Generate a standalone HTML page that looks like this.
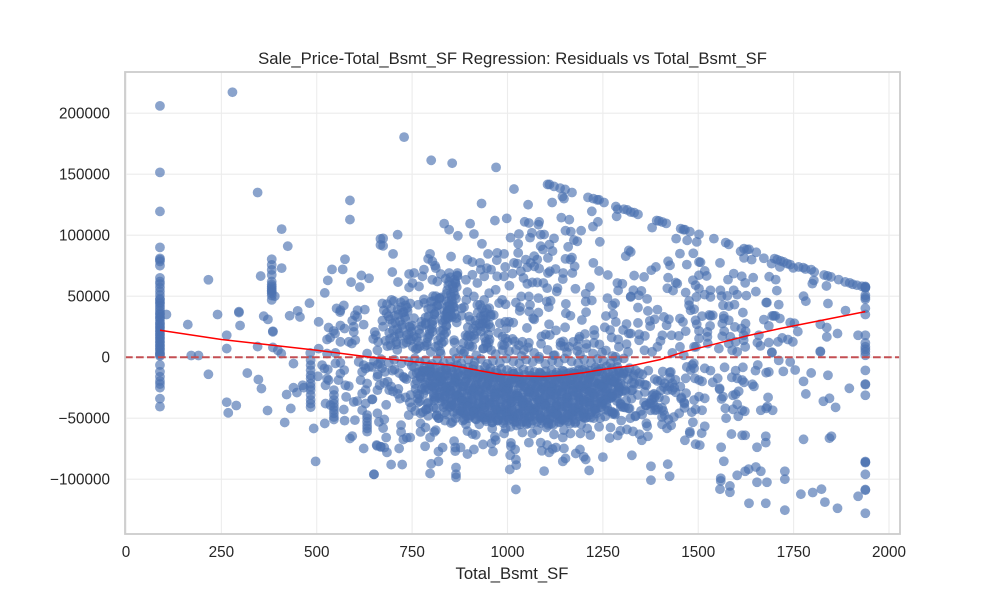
<!DOCTYPE html>
<html lang="en">
<head>
<meta charset="utf-8">
<title>Residuals vs Total_Bsmt_SF</title>
<style>
html,body{margin:0;padding:0;background:#fff}
svg{display:block;font-family:"Liberation Sans",Arial,sans-serif}
</style>
</head>
<body>
<svg id="chart" width="1000" height="600" viewBox="0 0 1000 600" xmlns="http://www.w3.org/2000/svg">
<rect x="0" y="0" width="1000" height="600" fill="#fff"/>
<g id="grid"></g>
<g id="points"></g>
<g id="overlays"></g>
<rect x="125" y="72" width="775" height="462" fill="none" stroke="#cccccc" stroke-width="1.8"/>
<g id="ticks"></g>
<text x="512.5" y="64" text-anchor="middle" font-size="16.67" fill="#262626">Sale_Price-Total_Bsmt_SF Regression: Residuals vs Total_Bsmt_SF</text>
<text x="512" y="579" text-anchor="middle" font-size="16.67" fill="#262626">Total_Bsmt_SF</text>
</svg>
<script>
const xTicks = [0, 250, 500, 750, 1000, 1250, 1500, 1750, 2000];
const yTicks = [-100000, -50000, 0, 50000, 100000, 150000, 200000];

const floorSF = 89;
const floorResiduals = [206000,151500,119500,90000,81000,80000,78500,75000,65000,62000,60000,57000,54000,51000,48000,45000,42000,38000,35000,32000,30000,27000,24000,21000,18000,15000,12000,9000,6000,3000,1000,-6400,-11900,-16000,-19500,-22000,-25000,-34000,-40500,28000,25000,22000,19000,16000,13000,10000,7000,4000,2000,33000,36000,40000,44000,47000];

const capSF = 1938;
const capResiduals = [57600,57000,56800,58000,50800,48900,47500,40100,35000,18000,11700,8500,6500,4400,1600,-10800,-22000,-22500,-31200,-86400,-86000,-85500,-96000,-109000,-108500,-127900];

const leftSF = [279,345,408,424,216,353,408,390,382,382,382,382,382,382,382,382,382,382,382,382,382,587,587,574,540,568,529,590,617,637,613,521,481,571,552,562,607,626,450,296,667,667,672,106,162,240,296,299,264,264,361,372,385,385,345,385,398,407,171,190,216,318,347,355,439,421,439,448,463,466,432,371,289,264,268,416,492,521,497,650,429,456,505,561,562,531,544,548,527,535,573,600,606,593,597,597,601,623,562,584,592,505,483,549,527,632,648,661,652,659,484,484,484,484,484,484,484,484,484,484,484,484,545,545,545,545,545,545,545,545,545,632,632,632,632,632,632,514,520,529,527,531,503,523,562,572,557,575,584,549,562,523,536,577,597,606,645,619,628,571,573,600,593,587,623,657,667,610,623,619,628,637,615,632,628,619,659,646,659,659,663,667];
const leftRes = [217200,135000,105000,91000,63500,66500,73000,50000,80300,75700,71600,67500,62000,59500,58000,56500,55000,54000,52500,50500,47000,128500,112800,80300,72000,72000,63000,61500,67000,64700,57500,52700,44300,42500,40000,38500,38500,39000,38000,37300,97000,92000,44000,35000,26750,35000,36600,26000,18000,7100,33600,31000,21300,20800,8700,8000,5700,3000,1400,1400,-14000,-13000,-18300,-25700,-5200,-30600,-25000,-29000,-23000,-25000,-42000,-43700,-39600,-36900,-45600,-53500,-58400,-54300,-85400,-96000,34000,33000,29000,37000,26000,24300,21500,19400,14500,16000,23500,34500,33000,30000,25000,20700,14000,26700,12600,12600,11200,7000,3500,3500,3000,3000,15000,12600,20700,5700,-2500,-6500,-10600,-14700,-17500,-21600,-24300,-27000,-31000,-35000,-38000,-41000,-27000,-31000,-35000,-38000,-41000,-43500,-46000,-49000,-51000,-47500,-50000,-53000,-56000,-58400,-61000,-6500,-9300,-10000,-17500,-18800,-15600,-23000,-13400,-10600,-18800,-23000,-23700,-5000,-4600,-38000,-39300,-32500,-36600,-36000,-34700,-43400,-38000,-42900,-52000,-51600,-64700,-66600,-74800,-72000,-73400,-3800,-6500,-12000,-9300,-7900,-18800,-21600,-27000,-29800,-27000,-34400,-16000,-46000,-53000,-5200];

const upperMidSF = [729,800,855,970,1017,1105,1110,1122,1138,1151,1169,1144,1148,1211,1225,1235,1240,1253,1284,1289,1305,1314,1323,1286,932,1054,1117,1221,1141,1162,998,967,834,847,902,912,870,712,674,674,700,797,792,803,810,812,852,1045,1056,1083,1081,1064,1059,1087,1096,1030,1008,1028,933,949,973,991,972,1028,895,908,928,1017,1026,1152,1166,1193,1224,1237,1122,1110,1087,1093,1118,1106,1159,1174,1183,1242,1152,1169,1165,1176,1225,1240,1263,1310,1318,1070,1078,1048,1061,1052,1070,1083,1035,994,946,930,957,973,991,1013,891,908,869,847,825,781,755,742,698,713,751,742,768,777,803,816,1126,1111,1106,1146,1170,1145,1042,1052,1065,1078,1094,1104,1005,1131,1129,1178,1216,1205,1205,1221,1262,1288,1301,1290,1282,1275,1323,1206,1258,1277,1195,1284,1255,1269,1273,1290,1312,1303,1318,1227,1228,1189,1187,1207,1227,1248,1283,1312,1316,1153,1153,1109,1151,1100,1111,1139,1161,1149,1183,1124,1083,1103,1113,1036,1056,1081,1059,1081,1067,1022,1033,1057,1004,1015,997,987,995,1039,1056,1030,1022,1043,1000,991,987,980,964,978,986,995,969,952,939,895,912,921,939,921,952,899,930,943,943,895,912,943,957,860,887,860,825,799,764];
const upperMidRes = [180400,161400,159000,155600,137800,141600,141600,140000,138600,137500,135000,131700,130000,131000,130000,129000,129000,126800,123500,121300,121300,120700,119000,115500,126000,125000,126800,119600,114400,112700,113800,112000,109500,104500,109500,101000,99500,100400,97400,91300,84700,84700,80600,78600,75000,73000,82500,111000,110000,111000,108600,102000,98000,100400,100600,101000,98000,93000,93000,84700,85500,84700,79500,85500,80000,78000,77300,77300,76700,103700,102900,103700,107000,111000,97400,92400,91000,88300,87000,81400,90500,96000,95000,94600,80600,81700,80000,74500,77300,70700,67400,82800,87500,82800,80000,80000,77300,73700,74500,72600,70400,74000,73000,71800,71800,66300,66300,68500,63500,67600,69000,69000,68200,71800,69000,68200,69800,61600,60800,57200,58000,66300,63500,62100,72300,70400,69000,69000,69000,64000,64900,60200,61300,61300,60800,56600,58600,56600,53900,56100,57500,52000,45600,46500,48400,60800,60200,54700,44300,42400,49800,36900,33800,35200,30500,28900,24500,22300,16200,14600,27200,22300,19500,22300,18200,16800,14900,10700,11800,3900,300,10700,4400,43700,36000,27000,24500,18700,18200,12100,8500,8500,5200,1650,300,45600,46200,49800,49800,48400,42900,36600,31900,44800,41000,37400,29000,28300,23700,16800,15400,12600,11800,9900,5800,5800,12600,9900,5800,27800,34600,44300,47000,43400,55300,52500,47000,53400,49800,60800,66300,42900,40200,33300,33300,31900,23700,16800,18200,12600,5800,14000,4400,4400,3000,4400,7200];

const upperDenseSF = [685,692,700,706,714,721,729,735,741,750,688,695,702,709,717,724,732,738,745,752,680,690,698,705,712,720,727,736,743,755,676,684,694,703,711,718,726,733,740,748,672,683,696,708,716,723,731,737,746,754,783,790,796,802,808,815,821,828,834,840,785,792,799,805,811,818,824,830,836,842,781,788,794,801,807,813,820,826,833,839,786,793,800,806,812,819,825,831,837,843,782,789,795,803,809,816,822,829,835,841,840,845,850,855,860,865,842,847,852,857,862,867,838,844,849,854,859,864,869,841,846,851,856,861,866,843,848,853,858,863,868,839,846,851,857,862,867,931,936,941,946,951,956,933,938,943,948,953,930,935,940,945,950,955,760,765,770,775,770,762,768,774,878,884,890,896,902,908,914,920,926,880,886,892,898,904,910,916,922,928,881,887,893,899,905,911,917,923];
const upperDenseRes = [9000,15000,22000,28500,35000,41000,46500,12000,19000,26000,33500,40000,46000,10500,17500,24000,31000,37500,44000,8500,13500,20000,27500,34000,39000,45000,11000,18000,25000,32000,38500,43500,9500,16500,23000,29500,36500,42500,14500,21000,30000,36000,47000,12500,19500,26500,33000,40500,24500,17000,9000,15500,22500,29000,35500,42000,48500,11500,18500,25500,32500,39500,45500,50000,8500,14000,21500,28000,34500,41500,47500,10000,17000,23500,30500,37000,43000,49000,13000,20500,27000,33500,40000,46000,50000,9500,16000,22000,31000,38000,44500,12000,19000,26500,35000,42500,48000,30500,38000,45500,52000,59000,65500,33000,41000,48000,55000,62000,34500,43500,50500,57500,64500,31500,39000,46500,53500,60500,66500,36000,44000,51500,58500,63500,32000,37500,42500,49500,56500,61500,67000,26000,32500,38500,41000,35500,28500,25500,30500,36500,39500,27000,33500,40000,34000,28000,8000,14500,21000,27500,16000,11000,18500,24500,6500,13000,19500,25500,9000,16000,22500,29000,6000,11500,18000,24500,30500,8500,15000,21500,27500,34000,41000,47000,10500,17000,23500,30000,36500,43000];

const lowerBlobSF = [755,762,769,776,783,790,797,804,811,818,825,832,839,846,853,860,867,874,881,888,895,902,909,916,923,930,937,944,951,958,965,972,979,986,993,1000,1007,1014,1021,1028,1035,1042,1049,1056,1063,1070,1077,1084,1091,1098,1105,1112,1119,1126,1133,1140,1147,1154,1161,1168,1175,1182,1189,1196,1203,1210,1217,1224,1231,1238,1245,1252,1259,1266,1273,1280,1287,1294,1301,1308,
752,759,766,773,780,787,794,801,808,815,822,829,836,843,850,857,864,871,878,885,892,899,906,913,920,927,934,941,948,955,962,969,976,983,990,997,1004,1011,1018,1025,1032,1039,1046,1053,1060,1067,1074,1081,1088,1095,1102,1109,1116,1123,1130,1137,1144,1151,1158,1165,1172,1179,1186,1193,1200,1207,1214,1221,1228,1235,1242,1249,1256,1263,1270,1277,1284,1291,1298,1305,
758,765,772,779,786,793,800,807,814,821,828,835,842,849,856,863,870,877,884,891,898,905,912,919,926,933,940,947,954,961,968,975,982,989,996,1003,1010,1017,1024,1031,1038,1045,1052,1059,1066,1073,1080,1087,1094,1101,1108,1115,1122,1129,1136,1143,1150,1157,1164,1171,1178,1185,1192,1199,1206,1213,1220,1227,1234,1241,1248,1255,1262,1269,1276,1283,1290,1297,1304,1311,
764,771,778,785,792,799,806,813,820,827,834,841,848,855,862,869,876,883,890,897,904,911,918,925,932,939,946,953,960,967,974,981,988,995,1002,1009,1016,1023,1030,1037,1044,1051,1058,1065,1072,1079,1086,1093,1100,1107,1114,1121,1128,1135,1142,1149,1156,1163,1170,1177,1184,1191,1198,1205,1212,1219,1226,1233,1240,1247,1254,1261,1268,1275,1282,1289,1296,1303,1310,1317,
770,781,792,803,814,825,836,847,858,869,880,891,902,913,924,935,946,957,968,979,990,1001,1012,1023,1034,1045,1056,1067,1078,1089,1100,1111,1122,1133,1144,1155,1166,1177,1188,1199,1210,1221,1232,1243,1254,1265,1276,1287,1298,1309,1320,1331,1342,1353,1364,1375,1386,1397,1408,1419,
775,786,797,808,819,830,841,852,863,874,885,896,907,918,929,940,951,962,973,984,995,1006,1017,1028,1039,1050,1061,1072,1083,1094,1105,1116,1127,1138,1149,1160,1171,1182,1193,1204,1215,1226,1237,1248,1259,1270,1281,1292,1303,1314,1325,1336,1347,1358,1369,1380,1391,1402,1413,1424];
const lowerBlobRes = [-8000,-19000,-31000,-12000,-25000,-38000,-9000,-22000,-34000,-15000,-28000,-41000,-11000,-24000,-37000,-8500,-20000,-33000,-44000,-14000,-27000,-40000,-10000,-23000,-36000,-47000,-13000,-26000,-39000,-18000,-30000,-43000,-16000,-29000,-42000,-21000,-35000,-48000,-17000,-32000,-45000,-19500,-34500,-49000,-15500,-28500,-41500,-12500,-25500,-38500,-17500,-30500,-43500,-14500,-27500,-40500,-11500,-24500,-37500,-46000,-13500,-26500,-39500,-10500,-23500,-36500,-16500,-29500,-42500,-9500,-22500,-35500,-18500,-31500,-44500,-20500,-33500,-12800,-27800,-41200,
-14000,-26000,-37000,-17000,-30000,-43000,-11000,-23500,-35500,-47500,-20000,-32500,-45000,-15000,-27000,-39500,-50000,-13000,-24000,-36000,-48000,-19000,-31000,-43500,-16000,-28000,-40000,-51000,-21500,-33000,-46000,-17500,-29500,-41000,-52000,-23000,-35000,-47000,-18000,-30000,-42000,-53000,-24500,-37000,-49000,-20500,-32000,-44000,-54000,-26500,-38000,-50500,-22000,-34000,-46500,-15000,-28000,-40500,-52500,-19000,-31500,-44500,-13500,-25000,-37500,-49500,-17000,-29000,-42000,-11500,-24000,-36000,-48500,-21000,-33500,-45500,-15500,-28500,-39000,-13500,
-22000,-34000,-46000,-11000,-27000,-42000,-16000,-32000,-48000,-20000,-36000,-10000,-26000,-41000,-53000,-18000,-31000,-44000,-24000,-38000,-50000,-14000,-29000,-43000,-55000,-21000,-35000,-47000,-12000,-25000,-39000,-51000,-17000,-30000,-45000,-23000,-37000,-49000,-56000,-19000,-33000,-46000,-28000,-41000,-52000,-22500,-36500,-48500,-15500,-31000,-44500,-54500,-26500,-40000,-50500,-18500,-34000,-47000,-12500,-27000,-42500,-21500,-35500,-49000,-16000,-30500,-45000,-24000,-38500,-11500,-28500,-43000,-19500,-33500,-46500,-14500,-29500,-40500,-23500,-35500,
-30000,-16000,-45000,-21000,-37000,-12000,-41000,-27000,-50000,-18000,-34000,-47000,-24000,-39000,-14000,-31000,-44000,-52000,-20000,-36000,-48000,-26000,-42000,-16500,-33000,-49500,-23000,-38000,-53500,-28500,-44000,-19000,-35000,-51000,-25000,-40500,-13500,-31500,-46500,-21500,-37500,-54000,-29000,-43500,-17500,-34500,-50000,-24500,-39500,-55500,-27500,-45500,-20500,-36500,-51500,-15000,-32500,-47500,-22500,-41500,-18000,-33000,-49000,-26000,-43000,-14500,-30500,-46000,-20000,-37500,-25500,-41000,-16500,-32000,-47000,-22000,-38000,-13000,-28000,-42000,
-36000,-12000,-48000,-24000,-42000,-17000,-52000,-30000,-45000,-20000,-38000,-55000,-27000,-46000,-22000,-40000,-15000,-50000,-33000,-47000,-25000,-43000,-18000,-53000,-35000,-49000,-28000,-44000,-21000,-39000,-16000,-51000,-31000,-48000,-26000,-41000,-19000,-54000,-34000,-46000,-23000,-37000,-13000,-50000,-29000,-44000,-20000,-36000,-52000,-27000,-42000,-14000,-31000,-47000,-23000,-38000,-18000,-33000,-44000,-27000,
-26000,-43000,-15000,-33000,-50000,-23000,-39000,-54000,-19000,-31000,-46000,-14000,-35000,-51000,-28000,-41000,-17000,-37000,-52000,-25000,-45000,-30000,-49000,-21000,-38000,-55000,-27000,-42000,-16000,-34000,-47000,-24000,-40000,-53000,-20000,-32000,-48000,-29000,-44000,-18000,-36000,-50000,-22000,-38500,-15000,-30000,-46000,-25000,-41000,-12000,-34000,-48000,-20000,-37000,-11000,-31000,-43000,-19000,-35000,-24000];

const lowerCoreSF = [781,796,811,824,839,853,868,882,897,911,926,941,955,970,984,999,1013,1028,1042,1057,1071,1086,1100,1115,1129,1144,1158,1173,1187,1202,1216,1231,1245,1260,1274,1288,
768,783,797,812,826,841,856,870,885,899,914,928,943,957,972,987,1001,1016,1030,1045,1059,1074,1088,1103,1118,1132,1147,1161,1176,1190,1205,1219,1234,1248,1263,1277,1292,1306,
762,777,791,806,820,835,849,864,879,893,908,922,937,951,966,980,995,1010,1024,1039,1053,1068,1082,1097,1111,1126,1141,1155,1170,1184,1199,1213,1228,1242,1257,1271,1286,1300,1316,
772,787,802,816,831,845,860,874,889,903,918,932,947,962,976,991,1005,1020,1034,1049,1063,1078,1093,1107,1122,1136,1151,1165,1180,1194,1209,1223,1238,1252,1267,1281,1296,
782,797,811,826,840,855,869,884,898,913,928,942,957,971,986,1000,1015,1029,1044,1059,1073,1088,1102,1117,1131,1146,1160,1175,1190,1204,1219,1233,1248,1262,1277,1291,
793,808,822,837,851,866,880,895,909,924,939,953,968,982,997,1011,1026,1040,1055,1070,1084,1099,1113,1128,1142,1157,1171,1186,1201,1215,1230,1244,1259,1273,1288,
807,822,836,851,865,880,894,909,923,938,953,967,982,996,1011,1025,1040,1054,1069,1084,1098,1113,1127,1142,1156,1171,1185,1200,1215,1229,1244,1258,1273,
822,836,851,866,880,895,909,924,938,953,967,982,997,1011,1026,1040,1055,1069,1084,1098,1113,1128,1142,1157,1171,1186,1200,1215,1229,1244,1259,
837,852,866,881,895,910,924,939,954,968,983,997,1012,1026,1041,1055,1070,1085,1099,1114,1128,1143,1157,1172,1186,1201,1216,1230,1245,
852,866,881,896,910,925,939,954,968,983,997,1012,1027,1041,1056,1070,1085,1099,1114,1128,1143,1158,1172,1187,1201,1216,1231,
868,883,897,912,926,941,956,970,985,999,1014,1028,1043,1057,1072,1087,1101,1116,1130,1145,1159,1174,1188,1203,1218,
887,902,916,931,945,960,975,989,1004,1018,1033,1047,1062,1077,1091,1106,1120,1135,1149,1164,1178,1193];
const lowerCoreRes = [-8500,-7000,-9000,-7500,-10000,-8000,-6500,-9500,-8500,-7000,-10500,-8000,-9000,-11000,-9500,-10500,-11500,-12500,-10000,-11000,-12000,-13000,-11500,-10500,-12500,-11000,-13500,-12000,-10500,-9500,-11000,-8500,-9500,-7500,-9000,-8000,
-12000,-11000,-13000,-12500,-11500,-13500,-12000,-14000,-11000,-13000,-12500,-14500,-13500,-15000,-13000,-14000,-15500,-13500,-16000,-14500,-15000,-16000,-14000,-15500,-14500,-16000,-14000,-15000,-13500,-14500,-12500,-13500,-12000,-13000,-11500,-12500,-11000,-12000,-13000,-11000,-12000,-13000,
-16000,-15000,-17000,-16500,-15500,-18000,-16000,-17500,-15500,-18500,-16500,-17000,-19000,-17500,-16000,-18000,-19500,-17000,-18500,-20000,-18000,-19000,-17500,-19500,-18500,-17000,-19000,-18000,-20000,-17500,-16500,-18500,-17000,-16000,-18000,-15500,-17000,-16000,-15500,
-20500,-19500,-21000,-22000,-20000,-21500,-23000,-20500,-22500,-21000,-23500,-21500,-22000,-20500,-23000,-21500,-22500,-24000,-21000,-23000,-22000,-20500,-23500,-22500,-21000,-23000,-22000,-20500,-21500,-23000,-22000,-20000,-21500,-22500,-20500,-21000,-19500,
-24500,-23500,-25500,-24000,-26000,-25000,-27000,-24500,-26500,-25000,-24000,-26000,-27500,-25500,-24500,-26500,-25000,-27000,-24000,-25500,-26500,-24500,-27000,-25500,-24000,-26000,-25000,-26500,-24500,-25500,-27000,-24000,-26000,-25000,-24500,-25500,
-28000,-29500,-28500,-30000,-27500,-29000,-31000,-28500,-30500,-29000,-28000,-30000,-31500,-29500,-28000,-30500,-29000,-31000,-28500,-30000,-29500,-31000,-28000,-30500,-29000,-28500,-30000,-31000,-28500,-29500,-27500,-30000,-29000,-28000,-29500,
-32000,-33500,-32500,-34000,-31500,-33000,-35000,-32500,-34500,-33000,-32000,-34000,-35500,-33500,-32000,-34500,-33000,-35000,-32500,-34000,-33500,-35000,-32000,-34500,-33000,-32500,-34000,-35000,-32500,-33500,-32000,-34000,-33000,
-36000,-37500,-36500,-38000,-35500,-37000,-39000,-36500,-38500,-37000,-36000,-38000,-39500,-37500,-36000,-38500,-37000,-39000,-36500,-38000,-37500,-39000,-36000,-38500,-37000,-36500,-38000,-39000,-36500,-37500,-36000,
-40500,-41500,-40000,-42000,-39500,-41000,-43000,-40500,-42500,-41000,-40000,-42000,-43500,-41500,-40000,-42500,-41000,-43000,-40500,-42000,-41500,-43000,-40000,-42500,-41000,-40500,-42000,-41000,-40500,
-44500,-45500,-44000,-46000,-43500,-45000,-47000,-44500,-46500,-45000,-44000,-46000,-47500,-45500,-44000,-46500,-45000,-47000,-44500,-46000,-45500,-47000,-44000,-46500,-45000,-44500,-45000,
-48500,-49500,-48000,-50000,-47500,-49000,-51000,-48500,-50500,-49000,-48000,-50000,-51500,-49500,-48000,-50500,-49000,-51000,-48500,-50000,-49500,-51000,-48000,-50500,-49000,
-52500,-53500,-52000,-54000,-51500,-53000,-55000,-52500,-54500,-53000,-52000,-54000,-55500,-53500,-52000,-54500,-53000,-55000,-52500,-54000,-53500,-53000];

const nearZeroSF = [650,668,689,703,722,741,757,770,784,802,816,833,850,866,879,897,914,930,947,962,980,997,1015,1031,1049,1066,1083,1099,1117,1134,1150,1168,1185,1201,1219,1236,1252,1270,1288,1305,
884,901,918,936,951,969,986,1004,1019,1037,1054,1070,1088,1105,1121,1139,1156,1172,1190,1207,1224,1241,1258,1275,1292,
655,674,692,711,728,747,766,785,804,823,842,861,880,899,918,937,956,975,994,1013,1032,1051,1070,1089,1108,1127,1146,1165,1184,1203,
645,660,677,690,704,718,735,748,660,679,695,712,727,744,758,671,686,700,716,733,749,665,682,698,714,730,746];
const nearZeroRes = [-3000,-1500,-4500,-2000,-5000,-3500,-1000,-4000,-2500,-5500,-1500,-4500,-3000,-1000,-5000,-2000,-4000,-1500,-5500,-3000,-4500,-1000,-3500,-5000,-2000,-4000,-1500,-5500,-3000,-4500,-1000,-3500,-5000,-2000,-4500,-1500,-3000,-5000,-2500,-1000,
3000,9000,1500,7000,12000,2500,10000,5000,13000,1000,8000,3500,11000,6000,1500,9500,4000,12500,2000,7500,3000,10500,5500,1000,8500,
18000,25000,31000,6000,37000,14000,43000,28000,21000,5000,33000,12000,40000,18000,26000,7000,35000,20000,29000,15000,38000,24000,31000,17000,41000,22000,13000,34000,9000,19000,
-8000,-14000,-21000,-27000,-10000,-34000,-18000,-41000,-6000,-12000,-24000,-30000,-16000,-37000,-44000,-9000,-20000,-28000,-13000,-33000,-7000,-23000,-39000,-11000,-26000,-17000,-31000];

const lowerOutlierSF = [1022,865,865,865,797,800,819,695,724,650,1006,1023,1022,1007,1020,1009,1009,1096,1214,1250,1145,1152,1200,1205,1190,1179,1148,1118,1109,1127,1090,1087,1104,1056,962,969,967,958,936,912,895,877,863,860,863,830,819,784,716,684,677,668,658,745,736,727,682,674,721,721,797,812,808,917,908,895,677,741,772,785,772,1039,1065,1122,1145,1165,1191,1217,1268,1289,1296,1313,1270,1240,1209,1148,1102,1078,960,991,995,1008];
const lowerOutlierRes = [-108400,-98500,-96000,-90400,-95300,-87400,-85400,-88000,-88000,-96000,-92000,-88500,-83800,-80300,-75600,-70200,-72900,-93400,-92800,-81900,-85400,-83000,-81600,-83800,-75600,-78900,-74800,-75300,-78000,-74000,-76700,-70000,-72000,-70000,-77300,-68000,-65200,-70700,-71500,-75600,-79400,-74000,-77000,-68800,-74000,-74000,-77300,-73000,-74800,-78000,-74000,-73400,-72600,-65800,-66000,-67400,-65800,-58100,-61200,-55700,-65800,-59800,-61200,-63600,-63000,-60600,-51000,-47500,-61200,-57600,-54300,-61700,-62500,-63300,-65800,-62500,-62500,-63900,-66300,-64200,-60300,-59200,-57600,-57000,-58400,-59800,-57600,-59800,-58400,-62500,-58400,-57000];

const upperRightSF = [1332,1342,1391,1397,1406,1416,1379,1454,1461,1465,1478,1502,1442,1471,1496,1541,1572,1580,1611,1620,1628,1633,1652,1672,1620,1640,1700,1707,1716,1724,1733,1741,1749,1714,1692,1763,1775,1781,1796,1804,1830,1839,1848,1868,1885,1897,1905,1916,1929,1919,1865,1837,1820,1837,1820,1886,1840,1803,1799,1836,1776,1782,1711,1680,1678,1698,1694,1702,1714,1672,1685,1741,1752,1761,1748,1735,1720,1709,1685,1663,1655,1659,1693,1686,1703,1706,1651,1644,1614,1623,1593,1578,1557,1502,1506,1470,1487,1452,1421,1426,1421,1389,1377,1358,1332,1323,1517,1522,1502,1486,1493,1502,1441,1445,1434,1419,1467,1532,1558,1593,1602,1626,1576,1561,1532,1517,1495,1476,1565,1580,1595,1476,1480,1489,1617,1342,1366,1351,1344,1330,1323,1368,1393,1410,1423,1452,1460,1386,1373,1374,1417,1342,1510,1529,1538,1532,1493,1496,1531,1524,1502,1567,1567,1580,1563,1624,1596,1613,1624,1568,1619,1584,1563,1524,1502,1489,1525,1580,1598,1619,1623,1554,1589,1602,1467,1449,1430,1406,1401,1360,1345,1345,1323,1452,1432,1393,1379,1359,1462,1494];
const upperRightRes = [118500,117100,112000,111700,110800,109700,106200,105400,104500,104500,102900,100700,97200,95800,94500,97200,93900,92500,86800,89000,88200,88500,86000,81100,81400,80000,80800,80000,78900,78100,76700,75900,73200,74000,76700,74000,73400,72300,71800,69900,67400,66600,65800,63600,61700,60900,59800,59000,58100,18000,19400,16700,27000,24300,4900,38200,44000,63000,60300,58400,50000,45900,43100,44800,44800,33900,33900,33900,31700,30800,25700,28400,27800,21000,12600,14500,15800,12600,12000,9300,12000,18000,4100,66000,63600,54600,53800,65200,66300,60900,68500,63600,77300,78100,77800,75900,85200,84900,78600,75300,65200,74000,71300,65800,66900,86300,70700,66600,67200,63100,59000,56200,61200,60300,54600,56500,53000,54900,54900,54900,51300,50500,50200,50000,49400,51300,49400,46100,42600,41800,43100,42600,38500,39300,36600,40700,47800,54300,50800,54900,49400,37900,39000,33000,31100,31700,28900,31100,29800,25400,26200,28100,33600,34700,34400,33900,30300,27000,25700,20700,21600,33900,31700,30300,27600,27600,24800,23500,21300,21300,18000,16700,17200,16700,15300,8500,11200,11200,12600,13900,8500,7100,5700,4400,21300,17500,18000,18000,13400,17500,18800,13900,19400,8500,3500,8500,4400,5700,1600,8500];

const lowerRightSF = [1919,1865,1832,1823,1800,1769,1727,1677,1633,1583,1583,1557,1559,1559,1680,1654,1664,1651,1632,1623,1602,1727,1727,1567,1560,1654,1677,1677,1623,1615,1587,1776,1844,1849,1504,1493,1465,1478,1478,1509,1517,1486,1573,1420,1376,1425,1376,1326,1352,1368,1346,1329,1429,1418,1405,1366,1364,1322,1695,1678,1681,1664,1683,1605,1622,1615,1602,1591,1571,1561,1565,1591,1598,1606,1556,1556,1517,1502,1510,1493,1483,1489,1463,1646,1642,1620,1615,1551,1538,1510,1502,1532,1517,1489,1491,1467,1588,1602,1569,1598,1617,1650,1656,1685,1678,1723,1754,1741,1711,1796,1840,1776,1782,1828,1844,1860,1896,1693,1820,1484,1480,1488,1432,1428,1412,1407,1402,1384,1375,1363,1354,1345,1332,1328,1325,1363,1381,1387,1405,1422,1436,1405,1441,1455,1464,1450,1432,1393,1385,1360,1336,1326,1384,1437,1456,1464,1470,1426,1410,1390,1372,1350,1335,1320,1330,1345,1360,1378,1395,1412,1425,1440,1453,1468];
const lowerRightRes = [-114000,-123800,-118800,-108200,-110900,-112300,-125400,-119700,-119700,-110700,-105500,-108200,-101400,-99200,-102500,-102500,-93500,-90000,-91800,-93500,-96800,-93500,-100000,-85300,-73800,-73800,-70000,-64800,-64000,-64000,-63000,-67300,-66400,-64800,-72100,-71300,-68100,-62300,-61000,-62300,-56600,-53300,-50000,-87700,-89400,-97600,-100800,-80400,-68100,-64800,-63200,-60800,-55800,-58300,-55000,-56600,-54200,-50000,-43500,-41900,-40500,-43500,-32900,-48400,-44300,-43500,-38600,-42700,-41900,-34200,-32300,-31200,-30400,-27900,-26300,-25500,-33700,-32300,-43500,-42700,-45100,-35100,-37000,-23900,-22200,-20600,-18700,-17300,-20600,-19800,-18700,-11000,-9100,-9100,-17300,-17300,-16500,-17300,-8300,-11000,-8300,-11000,-6400,-12100,-12700,-11600,-10500,-3900,-2600,-12900,-14800,-19800,-30100,-36100,-33700,-41100,-25500,3700,4400,-6400,-10500,-5000,-21400,-12000,-21400,-11700,-27200,-39500,-43500,-39500,-14000,-13000,-21400,-26700,-27200,-39500,-37500,-43500,-49000,-51000,-49000,-41500,-28800,-34000,-41500,-46000,-27000,-19500,-33000,-22500,-10800,-21000,-30000,-25000,-33000,-38000,-8000,-17000,-24500,-31000,-37500,-44000,-48500,-9000,-15500,-22000,-28500,-35000,-41500,-47500,-12500,-18500,-24000,-29500,-35500,-40500];

const smoothSF = [89,250,500,642,755,851,930,978,1035,1096,1148,1200,1253,1323,1401,1462,1541,1628,1715,1803,1938];
const smoothRes = [22100,14500,5700,0,-3800,-6500,-11200,-13900,-15300,-15800,-14700,-12600,-9800,-7100,-1900,4400,10600,17500,23500,28900,37400];

const PX_LEFT = 125, PX_RIGHT = 900, PX_TOP = 72, PX_BOTTOM = 534;
function xScale(v) { return 126 + v * 0.3815; }
function yScale(v) { return 357.2 - v * 0.00122; }

const NS = 'http://www.w3.org/2000/svg';
function mk(tag, attrs, parent) {
  const el = document.createElementNS(NS, tag);
  for (const k in attrs) el.setAttribute(k, attrs[k]);
  parent.appendChild(el);
  return el;
}
const gridG = document.getElementById('grid');
const ticksG = document.getElementById('ticks');
const pointsG = document.getElementById('points');
const overlaysG = document.getElementById('overlays');

xTicks.forEach(function (t) {
  const line = mk('line', {x1: xScale(t), x2: xScale(t), y1: PX_TOP, y2: PX_BOTTOM, stroke: '#ececec', 'stroke-width': 1.1}, gridG);
  
  
  const label = mk('text', {x: xScale(t), y: 557, 'text-anchor': 'middle', 'font-size': 15.28, fill: '#262626'}, ticksG);
  
  
  label.textContent = String(t);
});
yTicks.forEach(function (t) {
  const line = mk('line', {x1: PX_LEFT, x2: PX_RIGHT, y1: yScale(t), y2: yScale(t), stroke: '#ececec', 'stroke-width': 1.1}, gridG);
  
  
  const label = mk('text', {x: 110, y: yScale(t) + 5.5, 'text-anchor': 'end', 'font-size': 15.28, fill: '#262626'}, ticksG);
  
  
  label.textContent = String(t).replace('-', '\u2212');
});

function plotPoint(sf, res) {
  if (sf === undefined || res === undefined) return;
  const c = mk('circle', {cx: xScale(sf), cy: yScale(res), r: 4.9, fill: '#4c72b0', 'fill-opacity': 0.65}, pointsG);
  
  
}
floorResiduals.forEach(function (r) { plotPoint(floorSF, r); });
capResiduals.forEach(function (r) { plotPoint(capSF, r); });
[[leftSF, leftRes], [upperMidSF, upperMidRes], [upperDenseSF, upperDenseRes], [lowerBlobSF, lowerBlobRes], [lowerCoreSF, lowerCoreRes], [nearZeroSF, nearZeroRes], [lowerOutlierSF, lowerOutlierRes], [upperRightSF, upperRightRes], [lowerRightSF, lowerRightRes]].forEach(function (pair) {
  const n = Math.min(pair[0].length, pair[1].length);
  for (let i = 0; i < n; i++) plotPoint(pair[0][i], pair[1][i]);
});

const zero = mk('line', {x1: PX_LEFT, x2: PX_RIGHT, y1: yScale(0), y2: yScale(0), stroke: '#c44e52', 'stroke-width': 2, 'stroke-dasharray': '7.7 3.3'}, overlaysG);



const smoothPts = smoothSF.map(function (s, i) { return xScale(s).toFixed(1) + ',' + yScale(smoothRes[i]).toFixed(1); }).join(' ');
const smooth = mk('polyline', {points: smoothPts, fill: 'none', stroke: '#ff0000', 'stroke-width': 1.5, 'stroke-linejoin': 'round'}, overlaysG);


</script>
</body>
</html>
